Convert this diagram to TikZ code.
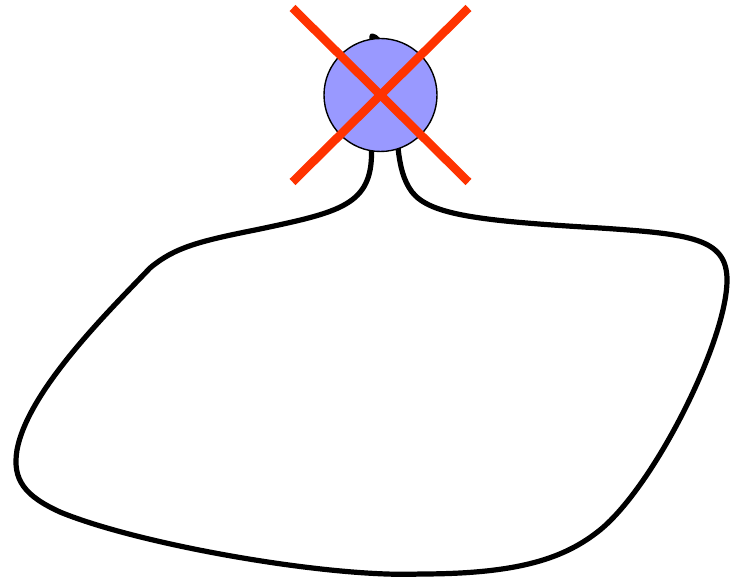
\documentclass[tikz,border=0pt]{standalone}
\usetikzlibrary{backgrounds}
\definecolor{nodoblu}{HTML}{9999FF}
\definecolor{crocerossa}{HTML}{FF3300}

\begin{document}
\begin{tikzpicture}[x=1pt, y=-1pt,
		vertice/.style={circle, draw, line width=1.4pt, fill=nodoblu, inner sep=0pt, minimum size=113pt},
		cappio/.style={line width=5.2pt, line join=round},
		croce/.style={line width=8.5pt, crocerossa}]
			\useasboundingbox (0,0) rectangle (739,577);
			
			% Vertice
			\node[vertice] (v) at (380.5,95) {};
			
			% Cappio sul vertice
			\begin{scope}[on background layer]
			\draw[cappio] (v.-72) .. controls (400,120) and (390,38) .. (372,36) -- (v.-99)
				.. controls (372,205) and (340,212) .. (260,229)
				.. controls (200,241) and (175,247) .. (150,268)
				.. controls (110,310) and (28,390) .. (17,450)
				.. controls (12,480) and (25,496) .. (60,512)
				.. controls (140,545) and (330,578) .. (420,574)
				.. controls (520,574) and (565,558) .. (600,530)
				.. controls (655,485) and (727,340) .. (727,280)
				.. controls (727,238) and (690,234) .. (600,228)
				.. controls (480,221) and (430,215) .. (412,192)
				.. controls (403,180) and (400,165) .. (v.-72);
			\end{scope}
			
			% Croce
			\draw[croce] (v.center) +(-88,-87) -- +(88,87);
			\draw[croce] (v.center) +(88,-87) -- +(-88,87);
		\end{tikzpicture}
\end{document}
